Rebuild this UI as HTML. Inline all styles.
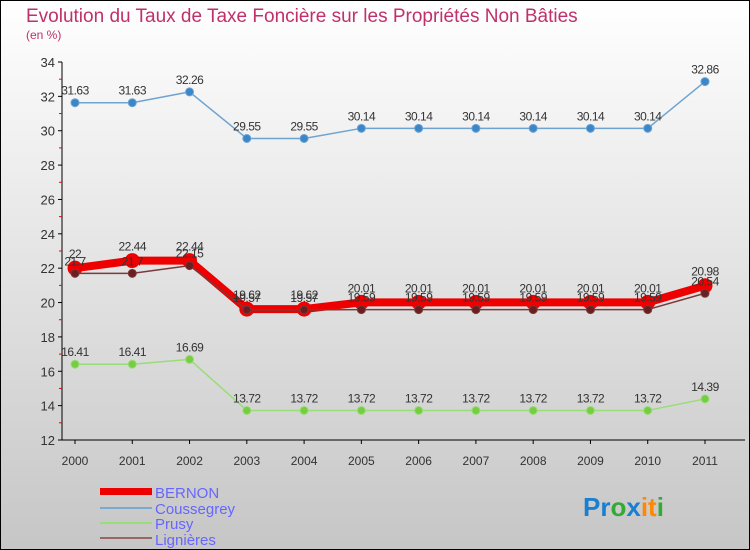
<!DOCTYPE html>
<html><head><meta charset="utf-8"><style>
body{margin:0}
#c{width:750px;height:550px;position:relative;overflow:hidden}
svg text{font-family:"Liberation Sans",sans-serif}
</style></head><body>
<div id="c">
<svg id="s" width="750" height="550" xmlns="http://www.w3.org/2000/svg">
<defs><linearGradient id="bg" x1="0" y1="0" x2="0" y2="1"><stop offset="0" stop-color="#ffffff"/><stop offset="1" stop-color="#c6c6c6"/></linearGradient></defs>
<rect x="0.5" y="0.5" width="749" height="549" fill="url(#bg)" stroke="#000"/>
<text x="26" y="22" font-size="19" fill="#c0306a">Evolution du Taux de Taxe Foncière sur les Propriétés Non Bâties</text>
<text x="26" y="39" font-size="12" fill="#c0306a">(en %)</text>
<g id="axes"></g><g id="series"></g>
<g>
<rect x="100" y="488" width="52" height="7" fill="#ee0000"/>
<text x="155" y="498" font-size="15" fill="#6666ff">BERNON</text>
<rect x="100" y="507" width="52" height="2" fill="#7aaad0"/>
<text x="155" y="514" font-size="15" fill="#6666ff">Coussegrey</text>
<rect x="100" y="522" width="52" height="2" fill="#99dd77"/>
<text x="155" y="529" font-size="15" fill="#6666ff">Prusy</text>
<rect x="100" y="537" width="52" height="2" fill="#996666"/>
<text x="155" y="545" font-size="15" fill="#6666ff">Lignières</text>
</g>
<text x="583" y="516" font-size="26" font-weight="bold"><tspan fill="#1a7fd0">Pr</tspan><tspan fill="#33aa33">o</tspan><tspan fill="#1a7fd0">x</tspan><tspan fill="#ff8800">it</tspan><tspan fill="#33aa33">i</tspan></text>
</svg></div>
<script>
const years=[2000,2001,2002,2003,2004,2005,2006,2007,2008,2009,2010,2011];
const yTicks=[12,14,16,18,20,22,24,26,28,30,32,34];
const bernon=[22,22.44,22.44,19.62,19.62,20.01,20.01,20.01,20.01,20.01,20.01,20.98];
const coussegrey=[31.63,31.63,32.26,29.55,29.55,30.14,30.14,30.14,30.14,30.14,30.14,32.86];
const prusy=[16.41,16.41,16.69,13.72,13.72,13.72,13.72,13.72,13.72,13.72,13.72,14.39];
const lignieres=[21.7,21.7,22.15,19.57,19.57,19.59,19.59,19.59,19.59,19.59,19.59,20.54];
const NS="http://www.w3.org/2000/svg";
const X=i=>75+i*(630/11);
const Y=v=>440-(v-12)*(378/22);
function mk(t,a,p){const e=document.createElementNS(NS,t);for(const k in a)e.setAttribute(k,a[k]);p.appendChild(e);return e;}
const ax=document.getElementById('axes'),sg=document.getElementById('series');
let l=mk('line',{x1:62,y1:62,x2:62,y2:440,stroke:'#000'},ax);


l=mk('line',{x1:62,y1:440,x2:745,y2:440,stroke:'#000'},ax);


yTicks.forEach(v=>{
  mk('line',{x1:58,y1:Y(v),x2:62,y2:Y(v),stroke:'#000'},ax);
  if(v<34)mk('line',{x1:59,y1:Y(v+1),x2:62,y2:Y(v+1),stroke:'#e00'},ax);
  const t=mk('text',{x:55,y:Y(v)+5,'font-size':13,fill:'#333','text-anchor':'end'},ax);t.textContent=v;
  
  
});
years.forEach((y,i)=>{
  mk('line',{x1:X(i),y1:440,x2:X(i),y2:444,stroke:'#000'},ax);
  const t=mk('text',{x:X(i),y:465,'font-size':12,fill:'#333','text-anchor':'middle'},ax);t.textContent=y;
  
  
});
function series(data,name,color,w,r,dot,lblDy){
  const g=mk('g',{},sg);
  
  
  mk('polyline',{points:data.map((v,i)=>X(i)+','+Y(v)).join(' '),fill:'none',stroke:color,'stroke-width':w,'stroke-linejoin':'round'},g);
  data.forEach((v,i)=>{
    const c=mk('circle',{cx:X(i),cy:Y(v),r:r,fill:dot,stroke:color,'stroke-width':1},g);
    
    
    const t=mk('text',{x:X(i),y:Y(v)+lblDy,'font-size':12,fill:'#333','text-anchor':'middle','letter-spacing':'-0.5'},g);
    t.textContent=String(v);
  });
}
series(coussegrey,'coussegrey','#6fa3d0',1.5,4,'#3a86c8',-8);
series(prusy,'prusy','#99dd77',1.5,4,'#77cc44',-8);
series(bernon,'bernon','#ee0000',8,7,'#ee0000',-10);
series(lignieres,'lignieres','#7a3a3a',1.5,4,'#6a2020',-8);
</script>
</body></html>
